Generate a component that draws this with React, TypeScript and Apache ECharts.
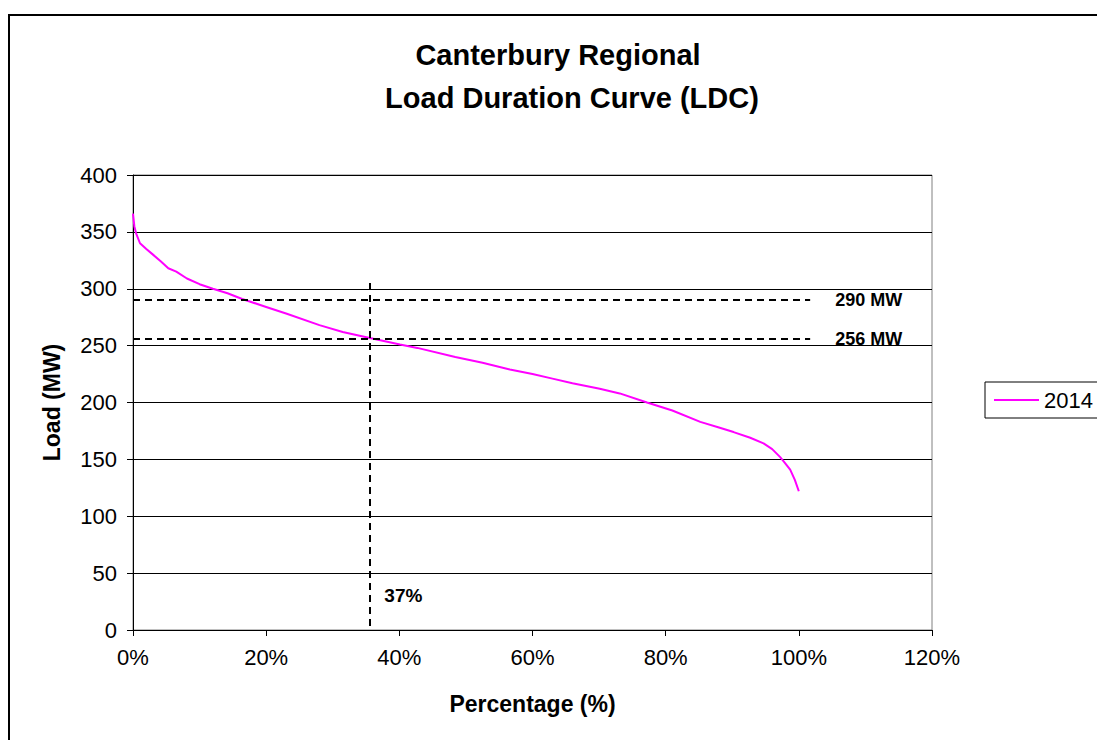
import React, { useEffect, useRef } from "react";
import * as echarts from "echarts";

const FONT = '"Liberation Sans", Arial, sans-serif';

const titleLines = ["Canterbury Regional", "Load Duration Curve (LDC)"];
const seriesName = "2014";
const xTickValues = [0, 20, 40, 60, 80, 100, 120];
const yTickValues = [0, 50, 100, 150, 200, 250, 300, 350, 400];

// Load duration curve: percentage of time (%) vs load (MW)
const loadPct = [0, 0.2, 0.45, 1.05, 2.0, 3.0, 4.2, 5.3, 6.5, 8.1, 10.0, 12.0, 14.2, 16.4, 20.0, 23.1, 28.0, 31.5, 35.4, 40.1, 42.7, 48.4, 52.5, 56.6, 60.0, 63.0, 66.0, 70.1, 73.1, 77.2, 81.0, 85.2, 88.0, 90.2, 92.7, 94.7, 96.0, 97.2, 97.9, 98.7, 99.4, 100];
const loadMW = [366, 355, 349, 340, 335, 330, 324, 318, 315, 309, 304, 300, 296, 291, 284, 278, 268, 262, 257, 251, 248, 240, 235, 229, 225, 221, 217, 212, 208, 200, 193, 183, 178, 174, 169, 164, 159, 152, 147, 141, 132, 122];

// Reference lines
const refLoads = [290, 256];
const refLoadLabels = ["290 MW", "256 MW"];
const refLineEndPct = 101.7;
const refPct = 35.5;
const refPctTop = 305;
const refPctLabel = "37%";
const refPctLabelLoad = 30;

export default function App() {
  const ref = useRef<HTMLDivElement>(null);
  useEffect(() => {
    if (!ref.current) return;
    const chart = echarts.init(ref.current, null, { renderer: "svg" });
    const data = loadPct.map((p, i) => [p, loadMW[i]]);
    const dashed = { color: "#000", width: 2, type: [7, 5] as any };
    chart.setOption({
      animation: false,
      backgroundColor: "#fff",
      textStyle: { fontFamily: FONT, color: "#000" },
      graphic: [
        {
          type: "rect",
          shape: { x: 9, y: 15, width: 1300, height: 1000 },
          style: { fill: "none", stroke: "#000", lineWidth: 2 },
          silent: true,
        },
        {
          type: "text",
          x: 558,
          y: 55,
          style: { text: titleLines[0], font: `bold 29px ${FONT}`, fill: "#000", textAlign: "center", textVerticalAlign: "middle" },
        },
        {
          type: "text",
          x: 572,
          y: 98,
          style: { text: titleLines[1], font: `bold 29px ${FONT}`, fill: "#000", textAlign: "center", textVerticalAlign: "middle" },
        },
      ],
      legend: {
        left: 985,
        top: 382,
        orient: "vertical",
        data: [seriesName],
        icon: "rect",
        itemWidth: 45,
        itemHeight: 2,
        itemGap: 0,
        padding: [7, 60, 7, 9],
        borderColor: "#000",
        borderWidth: 1,
        borderRadius: 0,
        textStyle: { fontSize: 22, fontFamily: FONT, color: "#000", padding: [0, 0, 0, 0] },
      },
      grid: {
        left: 133,
        right: 165,
        top: 175,
        bottom: 110,
        containLabel: false,
        show: true,
        borderColor: "#808080",
        borderWidth: 1,
      },
      xAxis: {
        type: "value",
        min: xTickValues[0],
        max: xTickValues[xTickValues.length - 1],
        interval: 20,
        name: "Percentage (%)",
        nameLocation: "middle",
        nameGap: 62,
        nameTextStyle: { fontSize: 23, fontWeight: "bold", fontFamily: FONT, color: "#000" },
        axisLine: { lineStyle: { color: "#000", width: 1 } },
        axisTick: { show: true, length: 6, lineStyle: { color: "#000" } },
        axisLabel: { formatter: "{value}%", fontSize: 22, color: "#000", fontFamily: FONT, margin: 16 },
        splitLine: { show: false },
      },
      yAxis: {
        type: "value",
        min: yTickValues[0],
        max: yTickValues[yTickValues.length - 1],
        interval: 50,
        name: "Load (MW)",
        nameLocation: "middle",
        nameGap: 70,
        nameRotate: 90,
        nameTextStyle: { fontSize: 23, fontWeight: "bold", fontFamily: FONT, color: "#000" },
        axisLine: { show: true, lineStyle: { color: "#000", width: 1 } },
        axisTick: { show: true, length: 6, lineStyle: { color: "#000" } },
        axisLabel: { fontSize: 22, color: "#000", fontFamily: FONT, margin: 16 },
        splitLine: { show: true, lineStyle: { color: "#000", width: 1 } },
      },
      series: [
        {
          name: seriesName,
          type: "line",
          data,
          symbol: "none",
          smooth: false,
          lineStyle: { color: "#FF00FF", width: 2 },
          itemStyle: { color: "#FF00FF" },
          z: 3,
          markLine: {
            silent: true,
            symbol: ["none", "none"],
            lineStyle: dashed,
            label: {
              show: true,
              position: "end",
              distance: 25,
              fontSize: 18,
              fontWeight: "bold",
              fontFamily: FONT,
              color: "#000",
              formatter: (p: any) => p.name,
            },
            data: [
              ...refLoads.map((v, i) => [
                { name: refLoadLabels[i], coord: [0, v] },
                { coord: [refLineEndPct, v] },
              ]),
              [
                { name: "", coord: [refPct, refPctTop], label: { show: false } },
                { coord: [refPct, 0], label: { show: false } },
              ],
            ],
          },
          markPoint: {
            silent: true,
            symbol: "circle",
            symbolSize: 0,
            label: {
              show: true,
              position: "right",
              distance: 15,
              fontSize: 19,
              fontWeight: "bold",
              fontFamily: FONT,
              color: "#000",
              formatter: refPctLabel,
            },
            data: [{ coord: [refPct, refPctLabelLoad] }],
          },
        },
      ],
    });
    return () => chart.dispose();
  }, []);
  return (
    <div
      ref={ref}
      style={{ position: "fixed", left: 0, top: 0, width: 1097, height: 740, background: "#fff" }}
    />
  );
}
